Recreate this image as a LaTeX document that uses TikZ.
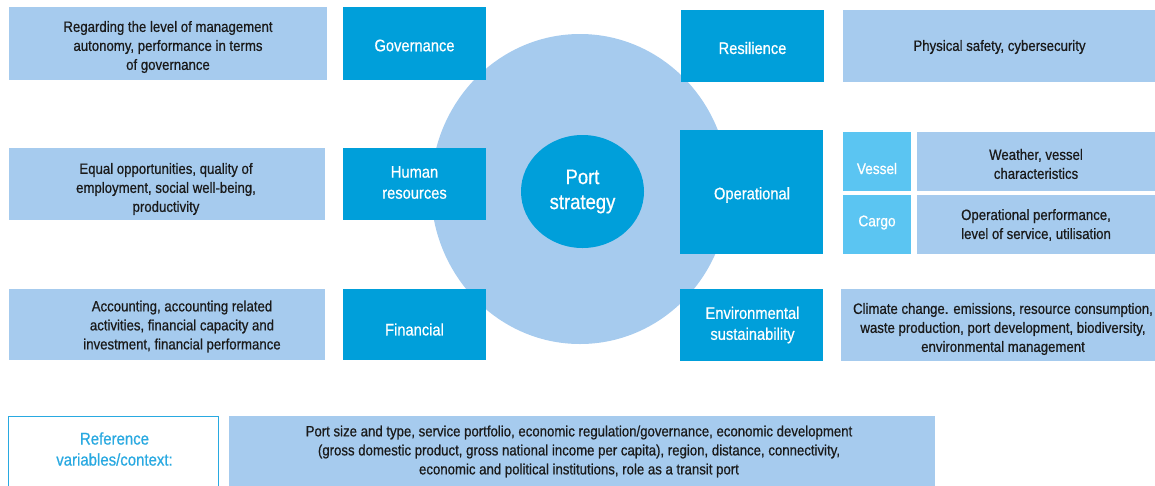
\documentclass[tikz,border=0pt]{standalone}
\usepackage{fontspec}
\setmainfont[FakeStretch=0.88,FakeBold=0.6]{Liberation Sans}
\usetikzlibrary{shapes.geometric}
\definecolor{lightb}{HTML}{A6CBEE}
\definecolor{darkb}{HTML}{009FDA}
\definecolor{midb}{HTML}{5BC5F2}
\definecolor{txt}{HTML}{1A1A1A}
\definecolor{refc}{HTML}{29A9E1}
\tikzset{
  base/.style={inner sep=0pt, align=center, anchor=center},
  descbox/.style={base, fill=lightb},
  darkbox/.style={base, fill=darkb},
  subbox/.style={base, fill=midb},
  desctext/.style={base, text=txt, font=\fontsize{15}{19}\selectfont},
  darktext/.style={base, text=white, font=\fontsize{16.7}{21}\selectfont},
  subtext/.style={base, text=white, font=\fontsize{15.5}{20}\selectfont},
}
\begin{document}
\begin{tikzpicture}[x=1pt,y=-1pt]
\useasboundingbox (0,0) rectangle (1155,485);
\begin{scope}
\clip (0,0) rectangle (1155,485);
% description boxes
\node[descbox, minimum width=318pt, minimum height=73pt] (gdesc) at (168,43.5) {};
\node[descbox, minimum width=316pt, minimum height=72pt] (hdesc) at (167,184) {};
\node[descbox, minimum width=316pt, minimum height=71pt] (fdesc) at (167,324.5) {};
\node[descbox, minimum width=312pt, minimum height=72pt] (rdesc) at (999,46) {};
\node[descbox, minimum width=238pt, minimum height=59pt] (vdesc) at (1036,161.5) {};
\node[descbox, minimum width=238pt, minimum height=59pt] (cdesc) at (1036,224.5) {};
\node[descbox, minimum width=314pt, minimum height=72pt] (edesc) at (998,325) {};
\node[desctext] (gdesct) at (168,47) {Regarding the level of management\\autonomy, performance in terms\\of governance};
\node[desctext] (hdesct) at (166,189) {Equal opportunities, quality of\\employment, social well-being,\\productivity};
\node[desctext] (fdesct) at (182,326.5) {Accounting, accounting related\\activities, financial capacity and\\investment, financial performance};
\node[desctext] (rdesct) at (999.5,47) {Physical safety, cybersecurity};
\node[desctext] (vdesct) at (1036,164) {Weather, vessel\\characteristics};
\node[desctext] (cdesct) at (1036,225) {Operational performance,\\level of service, utilisation};
\node[desctext] (edesct) at (1003,329) {Climate change. emissions, resource consumption,\\waste production, port development, biodiversity,\\environmental management};
% circles
\node[ellipse, fill=lightb, minimum width=298pt, minimum height=310pt, inner sep=0pt] (outer) at (580,189) {};
\node[ellipse, fill=darkb, minimum width=123pt, minimum height=113pt, inner sep=0pt, text=white, align=center, font=\fontsize{21}{25}\selectfont] (port) at (582.5,191.5) {Port\\strategy};
% dimension boxes
\node[darkbox, minimum width=143pt, minimum height=73pt] (gov) at (414.5,43.5) {};
\node[darkbox, minimum width=143pt, minimum height=72pt] (hum) at (414.5,184) {};
\node[darkbox, minimum width=143pt, minimum height=71pt] (fin) at (414.5,324.5) {};
\node[darkbox, minimum width=143pt, minimum height=72pt] (res) at (752.5,46) {};
\node[darkbox, minimum width=143pt, minimum height=124pt] (op) at (751.5,192) {};
\node[darkbox, minimum width=143pt, minimum height=72pt] (env) at (751.5,325) {};
\node[subbox, minimum width=68pt, minimum height=59pt] (vessel) at (877,161.5) {};
\node[subbox, minimum width=68pt, minimum height=59pt] (cargo) at (877,224.5) {};
\node[darktext] (govt) at (414.5,45.5) {Governance};
\node[darktext] (humt) at (414.5,182.5) {Human\\resources};
\node[darktext] (fint) at (414.5,329.5) {Financial};
\node[darktext] (rest) at (752.5,48) {Resilience};
\node[darktext] (opt) at (752,195) {Operational};
\node[darktext] (envt) at (752.5,325) {Environmental\\sustainability};
\node[subtext] (vesselt) at (877,168.5) {Vessel};
\node[subtext] (cargot) at (877,222.5) {Cargo};
% reference context
\node[base, draw=refc, line width=1.2pt, fill=white, minimum width=210pt, minimum height=74pt] (refv) at (113.5,453.5) {};
\node[base, text=refc, font=\fontsize{17}{21}\selectfont] (reft) at (114.5,449) {Reference\\variables/context:};
\node[descbox, minimum width=706pt, minimum height=72pt] (ctx) at (582,452) {};
\node[desctext] (ctxt) at (579,451.5) {Port size and type, service portfolio, economic regulation/governance, economic development\\(gross domestic product, gross national income per capita), region, distance, connectivity,\\economic and political institutions, role as a transit port};
\end{scope}
\end{tikzpicture}
\end{document}
